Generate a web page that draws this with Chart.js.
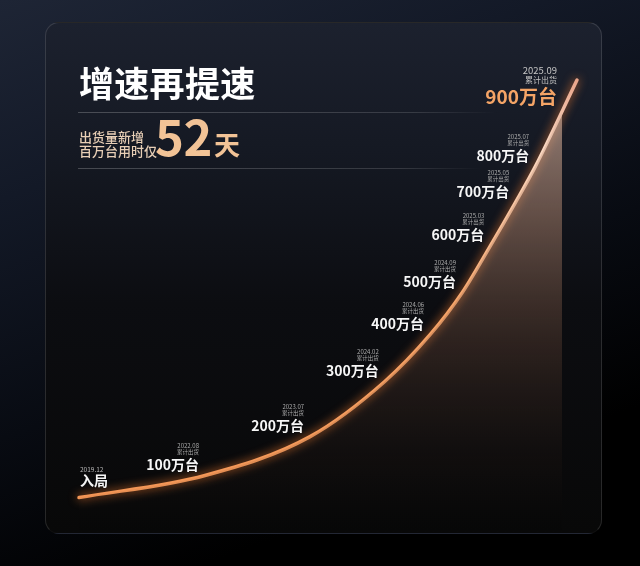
<!DOCTYPE html>
<html lang="zh">
<head>
<meta charset="utf-8">
<script src="https://cdn.jsdelivr.net/npm/chart.js@4.4.1/dist/chart.umd.min.js"></script>
<style>
  html, body { margin: 0; padding: 0; }
  body {
    width: 640px; height: 566px; overflow: hidden; position: relative;
    background: linear-gradient(160deg, #1e2535 0%, #131927 25%, #080b12 55%, #000 80%);
    font-family: "Noto Sans CJK SC", "Noto Sans", sans-serif;
  }
  .card {
    position: absolute; left: 45px; top: 22px; width: 557px; height: 512px;
    border-radius: 14px; box-sizing: border-box;
    border: 1px solid rgba(255,255,255,0.13);
    border-bottom-color: rgba(255,255,255,0.03);
    background: linear-gradient(180deg, #1c212e 0%, #151923 25%, #0c0d11 55%, #080808 100%);
  }
  .wrap { position: absolute; left: 0; top: 0; width: 640px; height: 566px; }
  .title {
    position: absolute; left: 79px; top: 64px; color: #fff;
    font-size: 35px; font-weight: 700; line-height: 1; letter-spacing: 0.3px;
  }
  .rule { position: absolute; left: 78px; height: 1px; }
  .rule.r1 { top: 112px; width: 420px; background: linear-gradient(90deg, rgba(255,255,255,0.22), rgba(255,255,255,0.14) 80%, rgba(255,255,255,0)); }
  .rule.r2 { top: 168px; width: 405px; background: linear-gradient(90deg, rgba(255,255,255,0.22), rgba(255,255,255,0.14) 80%, rgba(255,255,255,0)); }
  .sub {
    position: absolute; left: 79px; top: 130px; color: #e8cfb6;
    font-size: 13px; font-weight: 500; line-height: 14px;
  }
  .big {
    position: absolute; left: 155px; top: 110px; font-size: 49px; font-weight: 700;
    line-height: 1; color: #f2c396; letter-spacing: -0.5px;
  }
  .day {
    position: absolute; left: 214px; top: 131px; font-size: 26px; font-weight: 700;
    line-height: 1; color: #f2c396;
  }
</style>
</head>
<body>
<div class="card"></div>
<div class="wrap"><canvas id="chart"></canvas></div>
<div class="title">增速再提速</div>
<div class="rule r1"></div>
<div class="rule r2"></div>
<div class="sub">出货量新增<br>百万台用时仅</div>
<div class="big">52</div>
<div class="day">天</div>
<script>
// milestones (cumulative shipments)
const milestones = ['入局', '100万台', '200万台', '300万台', '400万台', '500万台', '600万台', '700万台', '800万台', '900万台'];
const dates = ['2019.12', '2022.08', '2023.07', '2024.02', '2024.06', '2024.09', '2025.03', '2025.05', '2025.07', '2025.09'];
// position of each milestone along the (illustrative) growth curve, 0-100
const progress = [0, 25.3, 46.4, 61.4, 70.5, 76.9, 82.6, 87.6, 91.6, 100];
const height = [0, 5.3, 14.6, 27.8, 39.0, 49.0, 60.3, 70.6, 79.2, 100];
const subLabel = '累计出货';

const points = progress.map((x, i) => ({ x: x, y: height[i] }));

const glow = {
  id: 'glow',
  beforeDatasetDraw(chart, args) {
    if (args.index !== 1) return;
    const ctx = chart.ctx;
    ctx.save();
    ctx.shadowColor = 'rgba(255,130,50,0.9)';
    ctx.shadowBlur = 10;
  },
  afterDatasetDraw(chart, args) {
    if (args.index === 1) chart.ctx.restore();
  }
};

const milestoneLabels = {
  id: 'milestoneLabels',
  afterDatasetsDraw(chart) {
    const ctx = chart.ctx;
    const meta = chart.getDatasetMeta(1);
    const font = '"Noto Sans CJK SC", "Noto Sans", sans-serif';
    ctx.save();
    ctx.textBaseline = 'middle';
    meta.data.forEach((pt, i) => {
      const last = i === milestones.length - 1;
      if (i === 0) {
        ctx.textAlign = 'left';
        ctx.fillStyle = '#b8b8b8';
        ctx.font = '400 6.5px ' + font;
        ctx.fillText(dates[i], pt.x + 1, pt.y - 28);
        ctx.fillStyle = '#f5f5f5';
        ctx.font = '700 14px ' + font;
        ctx.fillText(milestones[i], pt.x + 1, pt.y - 17);
      } else if (last) {
        const rx = pt.x - 20;
        ctx.textAlign = 'right';
        ctx.fillStyle = '#c4c4c4';
        ctx.font = '400 9.5px ' + font;
        ctx.fillText(dates[i], rx, pt.y - 10);
        ctx.font = '400 8px ' + font;
        ctx.fillText(subLabel, rx, pt.y);
        ctx.fillStyle = '#f4a466';
        ctx.font = '700 19px ' + font;
        ctx.fillText(milestones[i], rx, pt.y + 17);
      } else {
        const rx = pt.x - 6;
        ctx.textAlign = 'right';
        ctx.fillStyle = '#acacac';
        ctx.font = '400 6px ' + font;
        ctx.fillText(dates[i], rx, pt.y - 30);
        ctx.font = '400 5.5px ' + font;
        ctx.fillText(subLabel, rx, pt.y - 24);
        ctx.fillStyle = '#f7f7f7';
        ctx.font = '700 14px ' + font;
        ctx.fillText(milestones[i], rx, pt.y - 11);
      }
    });
    ctx.restore();
  }
};

// area under the curve: vertical fade, cut a little before the curve tip
let fillCache = null;
function fillPattern(context) {
  const chart = context.chart;
  const a = chart.chartArea;
  if (!a) return 'rgba(0,0,0,0)';
  const key = a.left + ',' + a.right + ',' + a.top + ',' + a.bottom;
  if (fillCache && fillCache.key === key) return fillCache.pattern;
  const off = document.createElement('canvas');
  off.width = chart.width;
  off.height = chart.height;
  const c = off.getContext('2d');
  const g = c.createLinearGradient(0, a.top, 0, a.bottom);
  g.addColorStop(0, 'rgba(232,196,176,0.66)');
  g.addColorStop(0.3, 'rgba(195,148,122,0.46)');
  g.addColorStop(0.6, 'rgba(135,92,70,0.26)');
  g.addColorStop(0.85, 'rgba(75,50,38,0.1)');
  g.addColorStop(1, 'rgba(40,25,20,0)');
  c.fillStyle = g;
  c.fillRect(a.left, a.top, a.right - 15 - a.left, a.bottom - a.top);
  const pattern = chart.ctx.createPattern(off, 'no-repeat');
  fillCache = { key: key, pattern: pattern };
  return pattern;
}

function lineGradient(context) {
  const a = context.chart.chartArea;
  if (!a) return '#f39555';
  const g = context.chart.ctx.createLinearGradient(0, a.bottom, 0, a.top);
  g.addColorStop(0, '#f39352');
  g.addColorStop(0.5, '#f6a468');
  g.addColorStop(0.85, '#fad9c4');
  g.addColorStop(1, '#e9a58a');
  return g;
}

new Chart(document.getElementById('chart'), {
  type: 'line',
  data: {
    datasets: [
      {
        data: points,
        borderWidth: 0,
        borderColor: 'rgba(0,0,0,0)',
        backgroundColor: fillPattern,
        fill: 'start',
        pointRadius: 0,
        cubicInterpolationMode: 'monotone',
        clip: false
      },
      {
        data: points,
        borderWidth: 3.5,
        borderColor: lineGradient,
        borderCapStyle: 'round',
        fill: false,
        pointRadius: 0,
        cubicInterpolationMode: 'monotone',
        clip: false
      }
    ]
  },
  options: {
    responsive: true,
    maintainAspectRatio: false,
    animation: false,
    layout: { padding: { left: 79, right: 63, top: 80, bottom: 35 } },
    scales: {
      x: { type: 'linear', min: 0, max: 100, display: false },
      y: { type: 'linear', min: -8, max: 100, display: false }
    },
    plugins: { legend: { display: false }, tooltip: { enabled: false } },
    events: []
  },
  plugins: [glow, milestoneLabels]
});
</script>
</body>
</html>
